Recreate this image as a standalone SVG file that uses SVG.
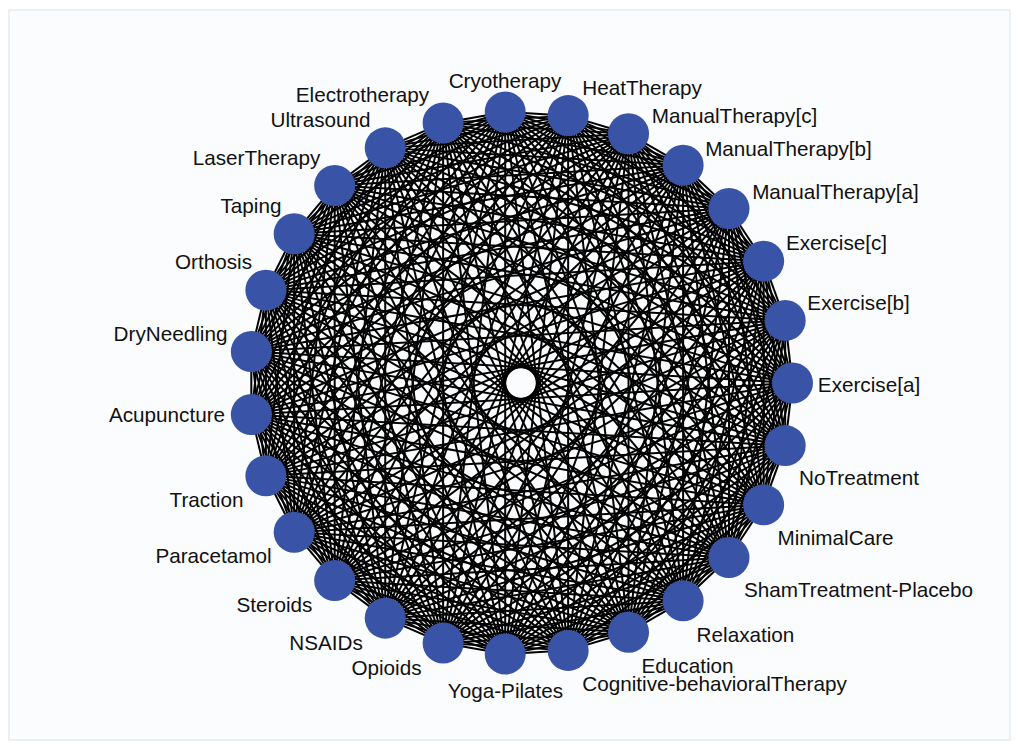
<svg xmlns="http://www.w3.org/2000/svg" xmlns:xlink="http://www.w3.org/1999/xlink" width="1019" height="750" viewBox="0 0 1019 750">
<style>
.edge{stroke:#000;stroke-width:2;fill:none}
.node circle{fill:#3953a6}
.node text{font-family:"Liberation Sans",Arial,sans-serif;font-size:20.7px;fill:#111;text-anchor:middle}
</style>
<defs>
<g id="fan">
<line class="edge" x1="271.5" y1="0" x2="264.18" y2="62.60"/>
<line class="edge" x1="271.5" y1="0" x2="242.62" y2="121.85"/>
<line class="edge" x1="271.5" y1="0" x2="207.98" y2="174.52"/>
<line class="edge" x1="271.5" y1="0" x2="162.13" y2="217.78"/>
<line class="edge" x1="271.5" y1="0" x2="107.54" y2="249.30"/>
<line class="edge" x1="271.5" y1="0" x2="47.15" y2="267.38"/>
<line class="edge" x1="271.5" y1="0" x2="-15.79" y2="271.04"/>
<line class="edge" x1="271.5" y1="0" x2="-77.87" y2="260.09"/>
<line class="edge" x1="271.5" y1="0" x2="-135.75" y2="235.13"/>
<line class="edge" x1="271.5" y1="0" x2="-186.31" y2="197.48"/>
<line class="edge" x1="271.5" y1="0" x2="-226.83" y2="149.19"/>
<line class="edge" x1="271.5" y1="0" x2="-255.13" y2="92.86"/>
<line class="edge" x1="271.5" y1="0" x2="-269.66" y2="31.52"/>
</g>
</defs>
<rect x="0" y="0" width="1019" height="750" fill="#ffffff"/>
<rect x="9" y="10" width="1001" height="730" fill="#fbfcfe" stroke="#e3ecf0" stroke-width="1.5"/>
<g id="connectors" transform="translate(521 383)">
<use xlink:href="#fan" transform="rotate(0)"/>
<use xlink:href="#fan" transform="rotate(13.33333)"/>
<use xlink:href="#fan" transform="rotate(26.66667)"/>
<use xlink:href="#fan" transform="rotate(40)"/>
<use xlink:href="#fan" transform="rotate(53.33333)"/>
<use xlink:href="#fan" transform="rotate(66.66667)"/>
<use xlink:href="#fan" transform="rotate(80)"/>
<use xlink:href="#fan" transform="rotate(93.33333)"/>
<use xlink:href="#fan" transform="rotate(106.66667)"/>
<use xlink:href="#fan" transform="rotate(120)"/>
<use xlink:href="#fan" transform="rotate(133.33333)"/>
<use xlink:href="#fan" transform="rotate(146.66667)"/>
<use xlink:href="#fan" transform="rotate(160)"/>
<use xlink:href="#fan" transform="rotate(173.33333)"/>
<use xlink:href="#fan" transform="rotate(186.66667)"/>
<use xlink:href="#fan" transform="rotate(200)"/>
<use xlink:href="#fan" transform="rotate(213.33333)"/>
<use xlink:href="#fan" transform="rotate(226.66667)"/>
<use xlink:href="#fan" transform="rotate(240)"/>
<use xlink:href="#fan" transform="rotate(253.33333)"/>
<use xlink:href="#fan" transform="rotate(266.66667)"/>
<use xlink:href="#fan" transform="rotate(280)"/>
<use xlink:href="#fan" transform="rotate(293.33333)"/>
<use xlink:href="#fan" transform="rotate(306.66667)"/>
<use xlink:href="#fan" transform="rotate(320)"/>
<use xlink:href="#fan" transform="rotate(333.33333)"/>
<use xlink:href="#fan" transform="rotate(346.66667)"/>
</g>
<g id="node-exercise-a" class="node"><circle cx="792.5" cy="383" r="20.5"/><text x="869" y="392">Exercise[a]</text></g>
<g id="node-notreatment" class="node"><circle cx="785.18" cy="445.60" r="20.5"/><text x="859" y="485">NoTreatment</text></g>
<g id="node-minimalcare" class="node"><circle cx="763.62" cy="504.85" r="20.5"/><text x="835.5" y="545">MinimalCare</text></g>
<g id="node-sham" class="node"><circle cx="728.98" cy="557.52" r="20.5"/><text x="858.5" y="597">ShamTreatment-Placebo</text></g>
<g id="node-relaxation" class="node"><circle cx="683.13" cy="600.78" r="20.5"/><text x="745.5" y="642">Relaxation</text></g>
<g id="node-education" class="node"><circle cx="628.54" cy="632.30" r="20.5"/><text x="687.5" y="673">Education</text></g>
<g id="node-cbt" class="node"><circle cx="568.15" cy="650.38" r="20.5"/><text x="714.5" y="691">Cognitive-behavioralTherapy</text></g>
<g id="node-yoga" class="node"><circle cx="505.21" cy="654.04" r="20.5"/><text x="505.5" y="698">Yoga-Pilates</text></g>
<g id="node-opioids" class="node"><circle cx="443.13" cy="643.09" r="20.5"/><text x="386.5" y="675">Opioids</text></g>
<g id="node-nsaids" class="node"><circle cx="385.25" cy="618.13" r="20.5"/><text x="326" y="650">NSAIDs</text></g>
<g id="node-steroids" class="node"><circle cx="334.69" cy="580.48" r="20.5"/><text x="274.5" y="612">Steroids</text></g>
<g id="node-paracetamol" class="node"><circle cx="294.17" cy="532.19" r="20.5"/><text x="213.5" y="563">Paracetamol</text></g>
<g id="node-traction" class="node"><circle cx="265.87" cy="475.86" r="20.5"/><text x="206.5" y="507">Traction</text></g>
<g id="node-acupuncture" class="node"><circle cx="251.34" cy="414.52" r="20.5"/><text x="167" y="422">Acupuncture</text></g>
<g id="node-dryneedling" class="node"><circle cx="251.34" cy="351.48" r="20.5"/><text x="170.5" y="341">DryNeedling</text></g>
<g id="node-orthosis" class="node"><circle cx="265.87" cy="290.14" r="20.5"/><text x="213.5" y="269">Orthosis</text></g>
<g id="node-taping" class="node"><circle cx="294.17" cy="233.81" r="20.5"/><text x="251" y="213">Taping</text></g>
<g id="node-lasertherapy" class="node"><circle cx="334.69" cy="185.52" r="20.5"/><text x="256.5" y="165">LaserTherapy</text></g>
<g id="node-ultrasound" class="node"><circle cx="385.25" cy="147.87" r="20.5"/><text x="320.5" y="127">Ultrasound</text></g>
<g id="node-electrotherapy" class="node"><circle cx="443.13" cy="122.91" r="20.5"/><text x="362.5" y="102">Electrotherapy</text></g>
<g id="node-cryotherapy" class="node"><circle cx="505.21" cy="111.96" r="20.5"/><text x="505" y="88">Cryotherapy</text></g>
<g id="node-heattherapy" class="node"><circle cx="568.15" cy="115.62" r="20.5"/><text x="642" y="95">HeatTherapy</text></g>
<g id="node-manualtherapy-c" class="node"><circle cx="628.54" cy="133.70" r="20.5"/><text x="734.5" y="123">ManualTherapy[c]</text></g>
<g id="node-manualtherapy-b" class="node"><circle cx="683.13" cy="165.22" r="20.5"/><text x="788.5" y="156">ManualTherapy[b]</text></g>
<g id="node-manualtherapy-a" class="node"><circle cx="728.98" cy="208.48" r="20.5"/><text x="835.5" y="199">ManualTherapy[a]</text></g>
<g id="node-exercise-c" class="node"><circle cx="763.62" cy="261.15" r="20.5"/><text x="836.5" y="250">Exercise[c]</text></g>
<g id="node-exercise-b" class="node"><circle cx="785.18" cy="320.40" r="20.5"/><text x="858.5" y="310">Exercise[b]</text></g>
</svg>
